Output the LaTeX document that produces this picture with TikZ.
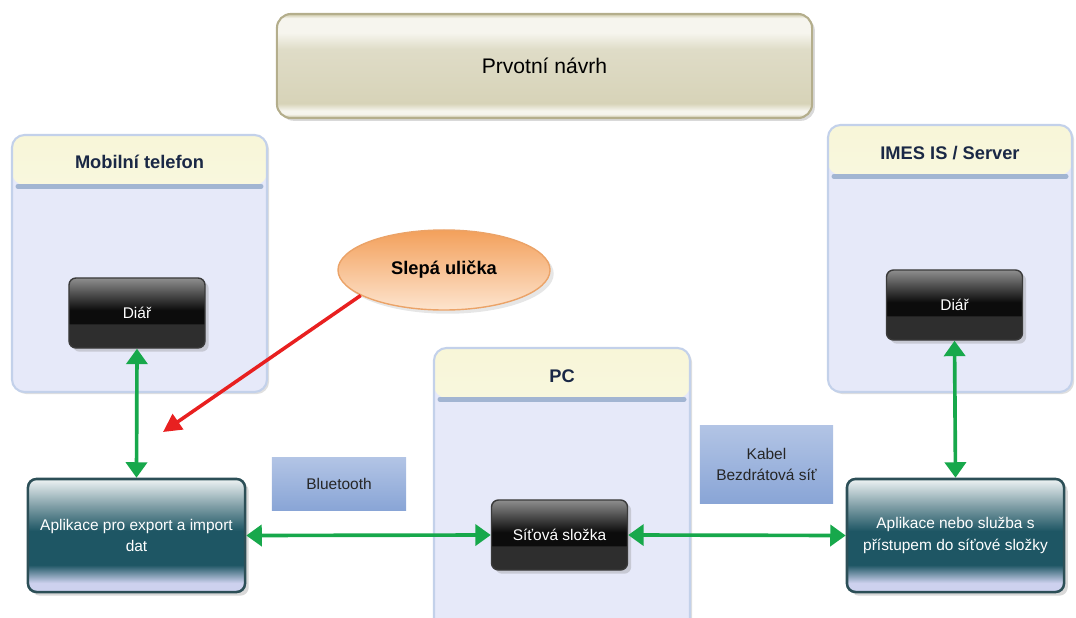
\documentclass[tikz,border=0pt]{standalone}
\usepackage{fontspec}
\setmainfont{Liberation Sans}
\usetikzlibrary{arrows.meta,shadows,shapes.geometric}

\definecolor{panelfill}{HTML}{E6E9F9}
\definecolor{panelborder}{HTML}{C3D1EA}
\definecolor{bandtop}{HTML}{F8F6D8}
\definecolor{bandbottom}{HTML}{FBFBF6}
\definecolor{bandline}{HTML}{A2B5D2}
\definecolor{paneltext}{HTML}{1A2845}
\definecolor{darktop}{HTML}{8E8E8E}
\definecolor{darkblack}{HTML}{0C0C0C}
\definecolor{darklow}{HTML}{2E2E2E}
\definecolor{darkborder}{HTML}{3A3A3A}
\definecolor{apptop}{HTML}{EEF3F4}
\definecolor{applight}{HTML}{7F9EA6}
\definecolor{appmid}{HTML}{1E5664}
\definecolor{appbottom}{HTML}{CDD1EE}
\definecolor{appborder}{HTML}{2C4F57}
\definecolor{linktop}{HTML}{B2C4E5}
\definecolor{linkbottom}{HTML}{89A5D6}
\definecolor{titleedge}{HTML}{CEC9A8}
\definecolor{titlebody}{HTML}{D7D3B8}
\definecolor{titlesoft}{HTML}{DFDCC7}
\definecolor{titleshine}{HTML}{F6F5EE}
\definecolor{titleborder}{HTML}{B4AE8C}
\definecolor{ovaltop}{HTML}{F3A05B}
\definecolor{ovalbottom}{HTML}{FDE4CE}
\definecolor{ovalborder}{HTML}{EBA368}
\definecolor{linkgreen}{HTML}{17A84B}
\definecolor{deadred}{HTML}{E82020}

\pgfdeclareverticalshading{appshade}{100bp}{color(0bp)=(appbottom); color(25bp)=(appbottom);
  color(29bp)=(appbottom); color(37bp)=(appmid); color(52bp)=(appmid); color(63bp)=(applight);
  color(75bp)=(apptop); color(100bp)=(apptop)}
\pgfdeclareverticalshading{darkshade}{100bp}{color(0bp)=(darklow); color(25bp)=(darklow);
  color(42bp)=(darklow); color(42.5bp)=(darkblack); color(52bp)=(darkblack); color(75bp)=(darktop);
  color(100bp)=(darktop)}
\pgfdeclareverticalshading{titleshade}{100bp}{color(0bp)=(titleedge); color(25bp)=(titleedge);
  color(27bp)=(titleshine); color(28.5bp)=(titleshine); color(32bp)=(titlebody); color(58bp)=(titlesoft);
  color(66bp)=(titleshine); color(73bp)=(titleshine); color(75bp)=(titleedge); color(100bp)=(titleedge)}

\tikzset{
  panel/.style={draw=panelborder, line width=1.5pt, fill=panelfill, rounded corners=9pt,
    drop shadow={opacity=0.25, shadow xshift=1.5pt, shadow yshift=-1.5pt},
    path picture={
      \fill[top color=bandtop, bottom color=bandbottom]
        (path picture bounding box.north west) rectangle
        ([yshift=-1.25cm]path picture bounding box.north east);
      \draw[bandline, line width=3.5pt, line cap=round]
        ([xshift=0.15cm,yshift=-1.28cm]path picture bounding box.north west) --
        ([xshift=-0.15cm,yshift=-1.28cm]path picture bounding box.north east);
    }},
  paneltitle/.style={font=\fontsize{13}{15}\selectfont\bfseries, text=paneltext},
  darkbox/.style={draw=darkborder, line width=1pt, rounded corners=5pt, shading=darkshade,
    minimum width=3.4cm, minimum height=1.75cm, text=white,
    font=\fontsize{11}{13}\selectfont, drop shadow={opacity=0.3}},
  appbox/.style={draw=appborder, line width=1.8pt, rounded corners=6pt, shading=appshade,
    minimum width=5.425cm, minimum height=2.825cm, text=white, align=center,
    font=\fontsize{11}{15}\selectfont, drop shadow={opacity=0.3}},
  linkbox/.style={top color=linktop, bottom color=linkbottom, align=center,
    font=\fontsize{11}{15}\selectfont, text=black!85},
  link/.style={draw=linkgreen, line width=2.6pt,
    {Triangle[length=11pt,width=15pt]}-{Triangle[length=11pt,width=15pt]}},
}

\begin{document}
\begin{tikzpicture}[x=0.025cm,y=-0.025cm]
  \useasboundingbox (0,0) rectangle (1076,617);

  \node[draw=titleborder, line width=1.5pt, rounded corners=10pt, shading=titleshade,
    minimum width=13.375cm, minimum height=2.6cm,
    drop shadow={opacity=0.3, shadow xshift=2pt, shadow yshift=-2pt},
    font=\fontsize{15}{17}\selectfont] (navrh) at (544.5,66) {Prvotní návrh};

  \node[panel, minimum width=6.375cm, minimum height=6.425cm] (mobil) at (139.5,263.5) {};
  \node[paneltitle] (mobilT) at ([yshift=-0.7cm]mobil.north) {Mobilní telefon};
  \node[panel, minimum width=6.1cm, minimum height=6.675cm] (imes) at (950,258.5) {};
  \node[paneltitle] (imesT) at ([yshift=-0.74cm]imes.north) {IMES IS / Server};
  \node[panel, minimum width=6.4cm, minimum height=7.05cm] (pc) at (562,489) {};
  \node[paneltitle] (pcT) at ([yshift=-0.74cm]pc.north) {PC};

  \node[darkbox] (diarM) at (137,313) {Diář};
  \node[darkbox] (diarS) at (954.5,305) {Diář};
  \node[darkbox] (slozka) at (559.5,535) {Síťová složka};

  \node[appbox] (appM) at (136.5,535.5) {Aplikace pro export a import\\dat};
  \node[appbox] (appS) at (955.5,535.5) {Aplikace nebo služba s\\přístupem do síťové složky};

  \node[linkbox, minimum width=3.35cm, minimum height=1.3cm] (bt) at (339,484) {Bluetooth};
  \node[linkbox, minimum width=3.325cm, minimum height=1.925cm] (kabel) at (766.5,464.5) {Kabel\\Bezdrátová síť};

  \node[ellipse, draw=ovalborder, line width=1pt, top color=ovaltop, bottom color=ovalbottom,
    minimum width=5.3cm, minimum height=2cm, drop shadow={opacity=0.2},
    font=\fontsize{13}{15}\selectfont\bfseries] (ulicka) at (444,270) {Slepá ulička};
  \coordinate (cil) at (163,432);

  \draw[link] (diarM.south) -- (appM.north);
  \draw[link] (diarS.south) -- (appS.north);
  \draw[link] (appM.east) -- (slozka.west);
  \draw[link] (slozka.east) -- (appS.west);
  \draw[deadred, line width=2.5pt, -{Triangle[length=13pt,width=13pt]}] (ulicka.197) -- (cil);
\end{tikzpicture}
\end{document}
